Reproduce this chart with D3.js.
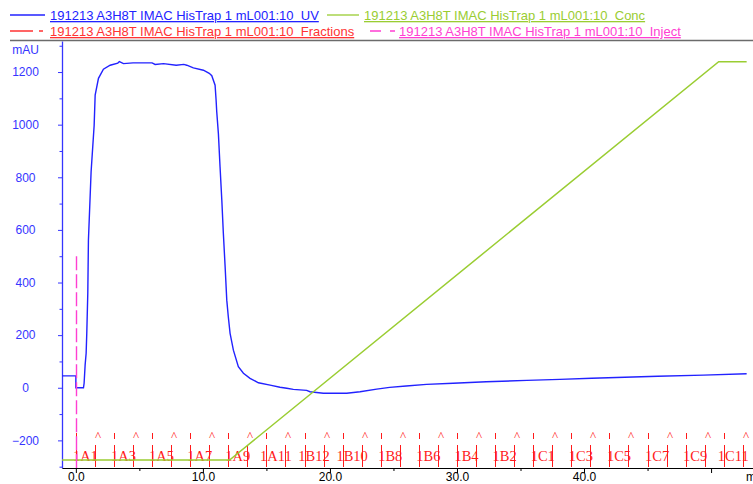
<!DOCTYPE html>
<html>
<head>
<meta charset="utf-8">
<script src="https://cdn.jsdelivr.net/npm/d3@7"></script>
<style>
  body { margin: 0; background: #fff; }
  svg { display: block; font-family: "Liberation Sans", Arial, sans-serif; }
</style>
</head>
<body>
<svg id="chart"></svg>
<script>
// UV trace (volume in ml, absorbance in mAU)
const uvVolume = [-1.09, 0, 0, 0.6, 0.65, 0.73, 0.81, 0.86, 0.94, 0.99, 1.2, 1.44, 1.52, 1.78, 2.17, 2.7, 3.3, 3.43, 3.75, 4.5, 6.0, 6.24, 6.9, 7.9, 8.5, 8.73, 9.25, 10.04, 10.5, 10.7, 10.96, 11.04, 11.09, 11.22, 11.35, 11.49, 11.61, 11.75, 11.88, 12.0, 12.14, 12.4, 12.79, 13.19, 13.71, 14.37, 15.29, 16.07, 16.6, 17.12, 18.17, 18.43, 19.48, 21.32, 22.37, 23.68, 24.7, 26.0, 27.6, 29.7, 32.3, 35.5, 38.1, 40.6, 43.2, 45.8, 49.4, 52.8];
const uvAbs = [45, 45, 0, 0, 17, 86, 131, 207, 359, 561, 820, 997, 1112, 1176, 1211, 1226, 1234, 1240, 1232, 1235, 1235, 1229, 1232, 1226, 1229, 1226, 1216, 1207, 1195, 1186, 1150, 1093, 1049, 966, 840, 713, 587, 460, 333, 270, 207, 143, 80, 55, 36, 19, 10, 2, -2, -6, -10, -15, -21, -21, -15, -5, 1.5, 6.5, 13, 17, 23, 28, 32, 36, 40, 44, 48, 53];

// gradient (% B)
const concVolume = [-1.09, 12.1, 50.6, 52.8];
const concPercent = [0, 0, 100, 100];

// injection mark
const injectVolume = 0;
const injectHeight = 500;

// fractions
const fractionStart = [0, 1.5, 3, 4.5, 6, 7.5, 9, 10.5, 12, 13.5, 15, 16.5, 18, 19.5, 21, 22.5, 24, 25.5, 27, 28.5, 30, 31.5, 33, 34.5, 36, 37.5, 39, 40.5, 42, 43.5, 45, 46.5, 48, 49.5, 51, 52.5];
const fractionNames = ["1A1", "1A2", "1A3", "1A4", "1A5", "1A6", "1A7", "1A8", "1A9", "1A10", "1A11", "1A12",
  "1B12", "1B11", "1B10", "1B9", "1B8", "1B7", "1B6", "1B5", "1B4", "1B3", "1B2", "1B1",
  "1C1", "1C2", "1C3", "1C4", "1C5", "1C6", "1C7", "1C8", "1C9", "1C10", "1C11", "1C12"];

// axes
const xTicks = [0, 10, 20, 30, 40, 50];
const xMinorTicks = [5, 15, 25, 35, 45];
const yTicks = [-200, 0, 200, 400, 600, 800, 1000, 1200];
const yMinorTicks = [-300, -100, 100, 300, 500, 700, 900, 1100, 1300];

const legendNames = ["191213 A3H8T IMAC HisTrap 1 mL001:10  UV", "191213 A3H8T IMAC HisTrap 1 mL001:10  Conc",
  "191213 A3H8T IMAC HisTrap 1 mL001:10  Fractions", "191213 A3H8T IMAC HisTrap 1 mL001:10  Inject"];

class Chromatogram {

  constructor(_config) {
    this.config = {
      parentElement: _config.parentElement,
      containerWidth: 753,
      containerHeight: 484,
      plot: { left: 62, right: 753, top: 41, bottom: 468 }
    };
    this.initVis();
  }

  initVis() {
    let vis = this;
    const p = vis.config.plot;

    vis.svg = d3.select(vis.config.parentElement)
        .attr('width', vis.config.containerWidth)
        .attr('height', vis.config.containerHeight);

    vis.xScale = d3.scaleLinear().domain([-1.09, 53.3]).range([p.left, p.right]);
    vis.yScale = d3.scaleLinear().domain([-305, 1318]).range([p.bottom, p.top]);
    vis.concScale = d3.scaleLinear().domain([0, 100]).range([460, 61.7]);

    vis.colors = { uv: '#2222ff', conc: '#9acd32', frac: '#ff1a1a', inject: '#ff3fd2' };

    // top frame line
    vis.svg.append('line')
        .attr('x1', 10).attr('x2', 753)
        .attr('y1', 40.5).attr('y2', 40.5)
        .attr('stroke', '#6b6b6b').attr('stroke-width', 1.5);

    vis.renderLegend();
    vis.renderAxes();
    vis.renderFractions();
    vis.renderLines();
  }

  renderLegend() {
    let vis = this;
    const items = [
      { name: legendNames[0], color: vis.colors.uv, lineX: [10, 45], dash: null, textX: 50, y: 15 },
      { name: legendNames[1], color: vis.colors.conc, lineX: [327, 359], dash: null, textX: 364, y: 15 },
      { name: legendNames[2], color: '#ff3333', lineX: [10, 44], dash: '23,6,4,40', textX: 50, y: 31 },
      { name: legendNames[3], color: vis.colors.inject, lineX: [370, 395], dash: '11,9,5,40', textX: 399, y: 31 }
    ];
    const g = vis.svg.append('g').attr('class', 'legend');
    items.forEach(d => {
      g.append('line')
          .attr('x1', d.lineX[0]).attr('x2', d.lineX[1])
          .attr('y1', d.y).attr('y2', d.y)
          .attr('stroke', d.color).attr('stroke-width', 1.3)
          .attr('stroke-dasharray', d.dash);
      g.append('text')
          .attr('x', d.textX).attr('y', d.y + 5)
          .attr('fill', d.color)
          .style('font-size', '13px')
          .style('white-space', 'pre')
          .style('text-decoration', 'underline')
          .text(d.name);
    });
  }

  renderAxes() {
    let vis = this;
    const p = vis.config.plot;
    const blue = '#3535ff';

    // y axis
    const yAxisG = vis.svg.append('g')
        .attr('transform', `translate(${p.left},0)`)
        .call(d3.axisLeft(vis.yScale).tickValues(yTicks).tickSize(4).tickSizeOuter(0)
            .tickFormat(d3.format('d')));
    yAxisG.select('.domain').attr('stroke', blue).attr('stroke-width', 1.3);
    yAxisG.selectAll('.tick line').attr('stroke', blue);
    yAxisG.selectAll('.tick text')
        .attr('x', -36.5)
        .attr('text-anchor', 'middle')
        .attr('fill', blue)
        .style('font-size', '12px');
    vis.svg.append('g')
        .attr('transform', `translate(${p.left},0)`)
        .call(d3.axisLeft(vis.yScale).tickValues(yMinorTicks).tickSize(2.5).tickFormat(''))
        .call(g => g.select('.domain').remove())
        .selectAll('.tick line').attr('stroke', blue);
    vis.svg.append('text')
        .attr('x', 25.5).attr('y', 54)
        .attr('text-anchor', 'middle')
        .attr('fill', blue)
        .style('font-size', '12px')
        .text('mAU');

    // x axis
    const xAxisG = vis.svg.append('g')
        .attr('transform', `translate(0,${p.bottom})`)
        .call(d3.axisBottom(vis.xScale).tickValues(xTicks).tickSize(5).tickSizeOuter(0)
            .tickFormat(d => d < 50 ? d.toFixed(1) : ''));
    xAxisG.select('.domain').attr('stroke', '#000');
    xAxisG.selectAll('.tick text')
        .attr('y', 4)
        .attr('fill', '#000')
        .style('font-size', '12px');
    vis.svg.append('g')
        .attr('transform', `translate(0,${p.bottom})`)
        .call(d3.axisBottom(vis.xScale).tickValues(xMinorTicks).tickSize(3).tickFormat(''))
        .call(g => g.select('.domain').remove());
    vis.svg.append('text')
        .attr('x', 746).attr('y', 481)
        .attr('fill', '#000')
        .style('font-size', '12px')
        .text('ml');
  }

  renderFractions() {
    let vis = this;
    const g = vis.svg.append('g').attr('class', 'fractions');
    const red = vis.colors.frac;

    fractionStart.forEach((v, i) => {
      const x = Math.round(vis.xScale(v)) + 0.5;
      g.append('line')
          .attr('x1', x).attr('x2', x)
          .attr('y1', 445).attr('y2', 467)
          .attr('stroke', red).attr('stroke-width', 1);
      if (i % 2 === 0) {
        g.append('line')
            .attr('x1', x).attr('x2', x)
            .attr('y1', 433).attr('y2', 439)
            .attr('stroke', red).attr('stroke-width', 1);
        const next = i + 1 < fractionStart.length ? fractionStart[i + 1] : v + 1.5;
        g.append('text')
            .attr('x', vis.xScale((v + next) / 2))
            .attr('y', 461)
            .attr('text-anchor', 'middle')
            .attr('fill', red)
            .style('font-family', '"Liberation Serif", "Times New Roman", serif')
            .style('font-size', '14.5px')
            .text(fractionNames[i]);
      } else {
        g.append('text')
            .attr('x', x - 0.5)
            .attr('y', 440)
            .attr('fill', red)
            .style('font-family', '"Liberation Serif", "Times New Roman", serif')
            .style('font-size', '13px')
            .text('^');
      }
    });
  }

  renderLines() {
    let vis = this;

    const uvData = uvVolume.map((v, i) => ({ v: v, a: uvAbs[i] }));
    const concData = concVolume.map((v, i) => ({ v: v, c: concPercent[i] }));

    vis.svg.append('path')
        .datum(uvData)
        .attr('fill', 'none')
        .attr('stroke', vis.colors.uv)
        .attr('stroke-width', 1.4)
        .attr('d', d3.line().x(d => vis.xScale(d.v)).y(d => vis.yScale(d.a)));

    vis.svg.append('path')
        .datum(concData)
        .attr('fill', 'none')
        .attr('stroke', vis.colors.conc)
        .attr('stroke-width', 1.5)
        .attr('d', d3.line().x(d => vis.xScale(d.v)).y(d => vis.concScale(d.c)));

    const ix = Math.round(vis.xScale(injectVolume)) + 0.5;
    vis.svg.append('line')
        .attr('x1', ix).attr('x2', ix)
        .attr('y1', vis.yScale(injectHeight))
        .attr('y2', vis.yScale(-305))
        .attr('stroke', vis.colors.inject)
        .attr('stroke-width', 1.4)
        .attr('stroke-dasharray', '14,4');
  }
}

new Chromatogram({ parentElement: '#chart' });
</script>
</body>
</html>
